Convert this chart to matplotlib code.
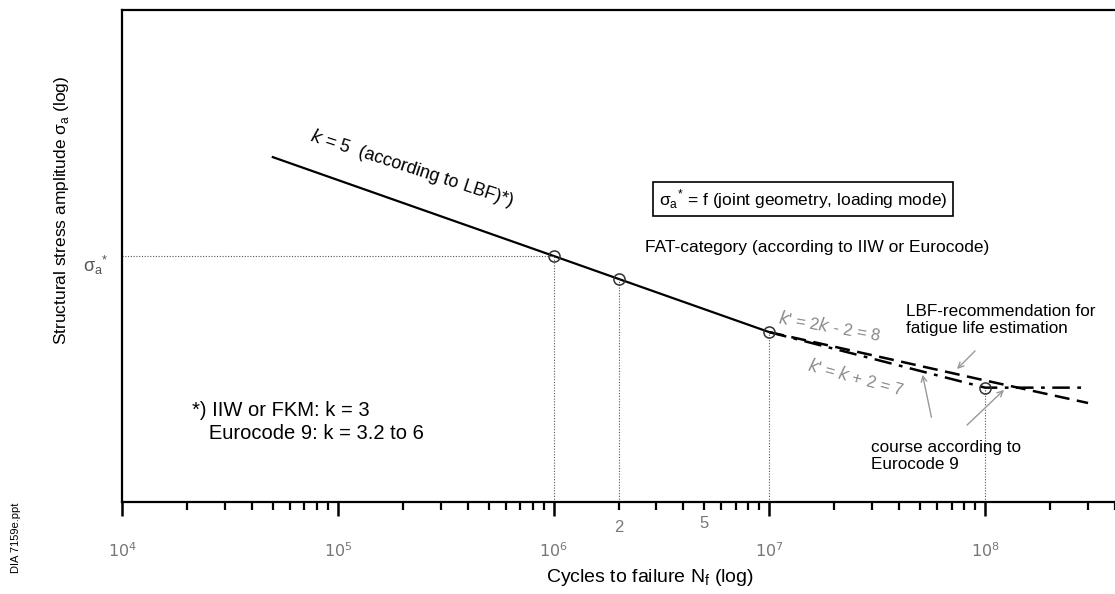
import numpy as np
import matplotlib
matplotlib.use('Agg')
import matplotlib.pyplot as plt
from matplotlib.ticker import LogLocator, NullFormatter, FixedLocator

plt.rcParams['font.family'] = ['Liberation Sans', 'DejaVu Sans']

# S-N curve data (cycles, stress amplitude in arbitrary log units)
sigma_star = 100
N_k5 = [5e4, 1e6, 2e6, 1e7]
S_k5 = [182, 100, 87, 63]
N_lbf = [1e7, 1e8, 3e8]          # k' = 2k - 2 = 8
S_lbf = [63, 47, 41]
N_ec9 = [1e7, 1e8, 3e8]          # k' = k + 2 = 7, then cut-off
S_ec9 = [63, 45, 45]
N_marks = [1e6, 2e6, 1e7, 1e8]
S_marks = [100, 87, 63, 45]

decades = [1e4, 1e5, 1e6, 1e7, 1e8]
decade_labels = ['$10^4$', '$10^5$', '$10^6$', '$10^7$', '$10^8$']

W, H = 1115, 594
fig = plt.figure(figsize=(W / 100, H / 100), dpi=100)
ax = fig.add_axes([122 / W, 1 - 502 / H, 1 - 122 / W, (502 - 10) / H])
ax.set_xscale('log')
ax.set_yscale('log')
ax.set_xlim(1e4, 4e8)
ax.set_ylim(22.5, 444)


def fp(x, y):
    # pixel position (from top-left) -> figure fraction
    return x / W, 1 - y / H


# curves
ax.plot(N_k5, S_k5, color='black', lw=1.6)
ax.plot(N_lbf, S_lbf, color='black', lw=1.8, linestyle=(0, (6, 3)))
ax.plot(N_ec9, S_ec9, color='black', lw=1.8, linestyle=(0, (7, 3, 1.5, 3)))

# guide lines
for n, s in zip(N_marks, S_marks):
    ax.plot([n, n], [22.5, s], color='#555555', lw=0.8, linestyle=(0, (1, 1.5)))
ax.plot([1e4, 1e6], [sigma_star, sigma_star], color='#555555', lw=0.8, linestyle=(0, (1, 1.5)))
ax.plot(N_marks, S_marks, linestyle='none', marker='o', ms=8, mfc='none', mec='#333333', mew=1.1)

# axes styling
ax.spines['right'].set_visible(False)
for sp in ['left', 'top', 'bottom']:
    ax.spines[sp].set_linewidth(1.6)
ax.yaxis.set_major_locator(FixedLocator([]))
ax.yaxis.set_minor_locator(FixedLocator([]))
ax.xaxis.set_major_locator(FixedLocator(decades))
ax.xaxis.set_minor_locator(LogLocator(base=10, subs=np.arange(2, 10)))
ax.xaxis.set_minor_formatter(NullFormatter())
ax.set_xticklabels(decade_labels)
ax.tick_params(axis='x', which='major', direction='out', length=10, width=1.8,
               pad=18, labelsize=11.5, labelcolor='#777777')
ax.tick_params(axis='x', which='minor', direction='out', length=6, width=1.6)

ax.text(2e6, -0.052, '2', transform=ax.get_xaxis_transform(), ha='center', va='center',
        fontsize=12, color='#777777')
ax.text(5e6, -0.044, '5', transform=ax.get_xaxis_transform(), ha='center', va='center',
        fontsize=12, color='#777777')

# axis labels
fig.text(*fp(650, 578), 'Cycles to failure N$_\\mathregular{f}$ (log)', ha='center', va='center',
         fontsize=14)
fig.text(*fp(62, 210), 'Structural stress amplitude σ$_\\mathregular{a}$ (log)', ha='center',
         va='center', rotation=90, fontsize=12.5)
fig.text(*fp(96, 265), 'σ$_\\mathregular{a}$$^\\mathregular{*}$', ha='center', va='center',
         fontsize=13, color='#555555')
fig.text(*fp(16, 538), 'DIA 7159e.ppt', ha='center', va='center', rotation=90, fontsize=8)

# annotations
fig.text(*fp(803, 199), 'σ$_\\mathregular{a}$$^\\mathregular{*}$ = f (joint geometry, loading mode)',
         ha='center', va='center', fontsize=12.5,
         bbox=dict(boxstyle='square,pad=0.3', fc='white', ec='black', lw=1.2))
fig.text(*fp(412, 168), '$k$ = 5  (according to LBF)*)', ha='center', va='center',
         rotation=-18, fontsize=13)
fig.text(*fp(645, 247), 'FAT-category (according to IIW or Eurocode)', ha='left', va='center',
         fontsize=12.5)
fig.text(*fp(830, 326), "$k$' = 2$k$ - 2 = 8", ha='center', va='center', rotation=-10,
         fontsize=12, color='#888888')
fig.text(*fp(856, 377), "$k$' = $k$ + 2 = 7", ha='center', va='center', rotation=-15,
         fontsize=12, color='#888888')
fig.text(*fp(906, 320), 'LBF-recommendation for\nfatigue life estimation', ha='left',
         va='center', fontsize=12.3, linespacing=1.2)
fig.text(*fp(871, 456), 'course according to\nEurocode 9', ha='left', va='center',
         fontsize=12.3, linespacing=1.2)
fig.text(*fp(192, 422), '*) IIW or FKM: k = 3\n   Eurocode 9: k = 3.2 to 6', ha='left',
         va='center', fontsize=14.5, linespacing=1.3)

arrow = dict(arrowstyle='->', color='#999999', lw=1.0)
ax.annotate('', xy=fp(955, 371), xytext=fp(977, 349), xycoords='figure fraction',
            textcoords='figure fraction', arrowprops=arrow)
ax.annotate('', xy=fp(922, 372), xytext=fp(932, 420), xycoords='figure fraction',
            textcoords='figure fraction', arrowprops=arrow)
ax.annotate('', xy=fp(1006, 388), xytext=fp(965, 427), xycoords='figure fraction',
            textcoords='figure fraction', arrowprops=arrow)

fig.savefig('out.png', dpi=100)
